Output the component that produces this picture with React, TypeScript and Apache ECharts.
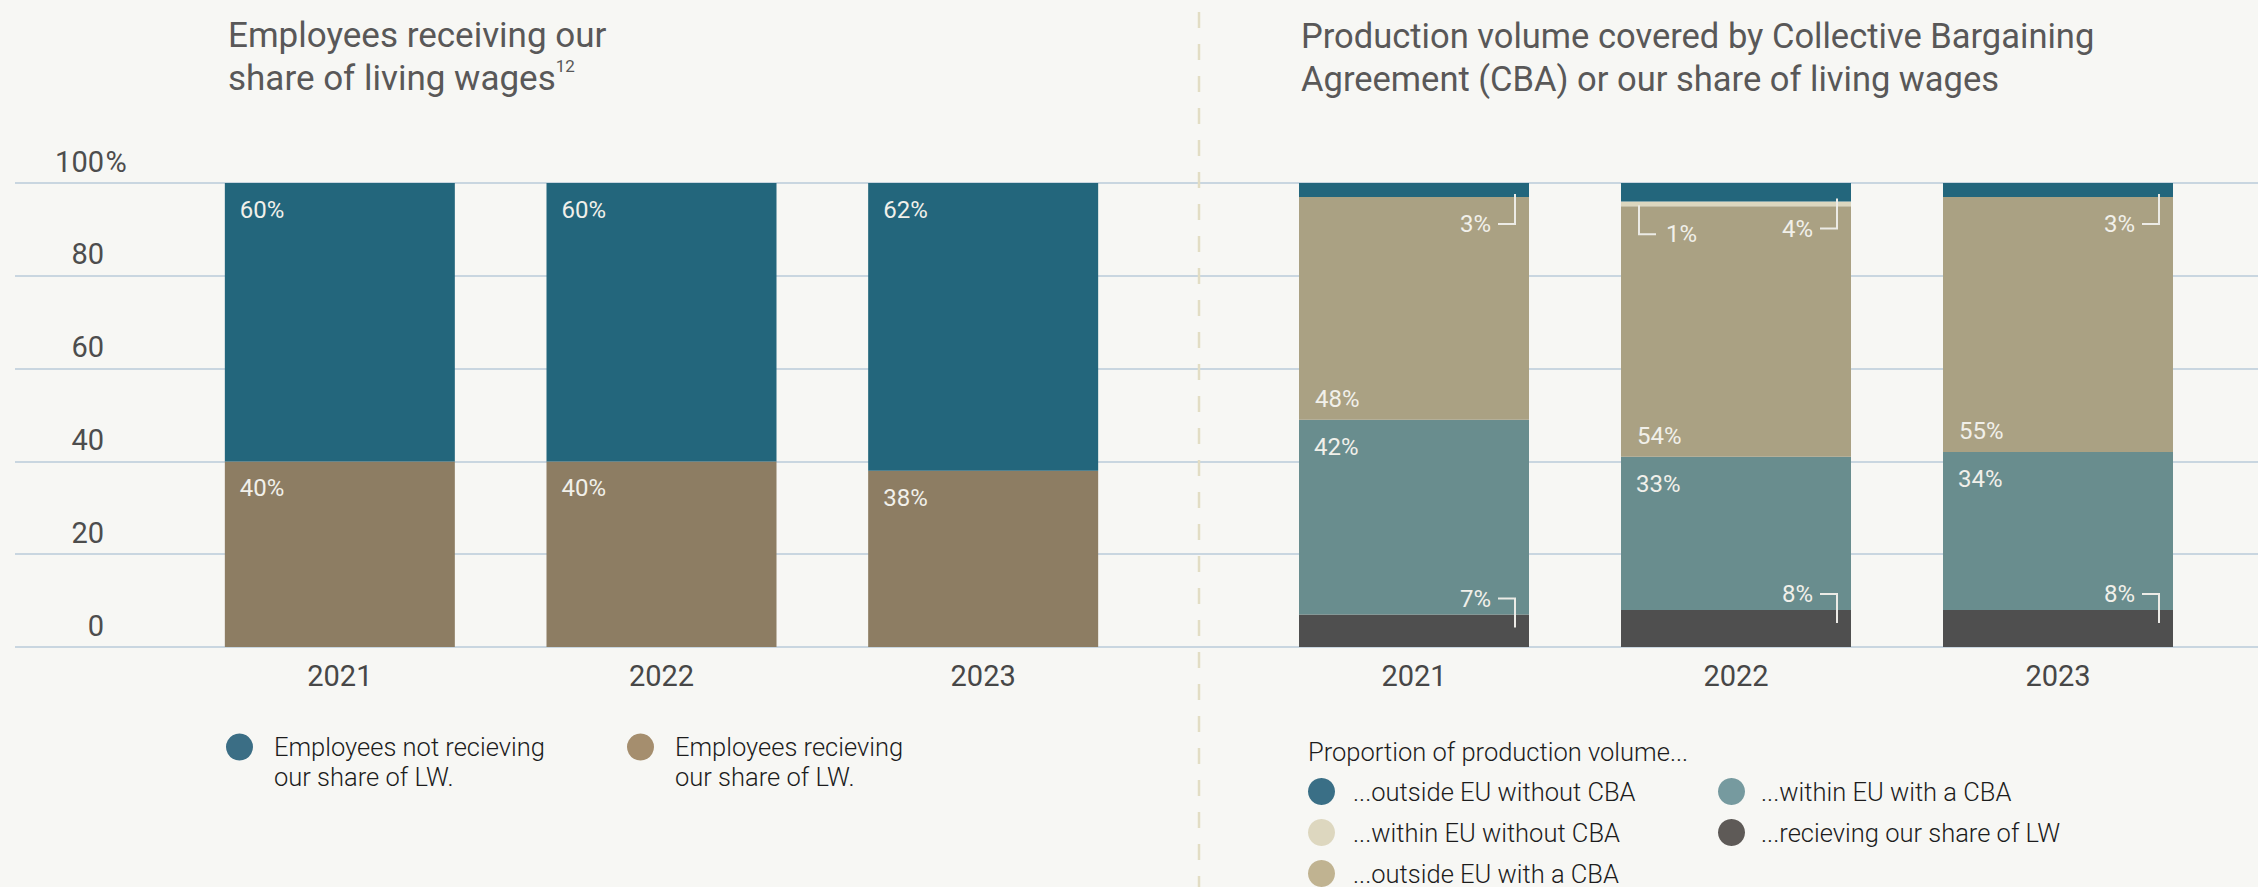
import React, { useEffect, useRef } from 'react';
import * as echarts from 'echarts';

// ---------- data ----------
const years = ['2021', '2022', '2023'];
const yTickLabels = ['0', '20', '40', '60', '80', '100%'];

// Left chart: employees and our share of living wages (%)
const empNotReceiving = [60, 60, 62];
const empReceiving = [40, 40, 38];

// Right chart: production volume (%), bottom to top
const pvReceivingLW = [7, 8, 8];
const pvWithinEUCBA = [42, 33, 34];
const pvOutsideEUCBA = [48, 54, 55];
const pvWithinEUNoCBA = [0, 1, 0];
const pvOutsideEUNoCBA = [3, 4, 3];

const NAME_NOT = 'Employees not recieving\nour share of LW.';
const NAME_REC = 'Employees recieving\nour share of LW.';
const N_OUT_NO = '...outside EU without CBA';
const N_IN_NO = '...within EU without CBA';
const N_OUT_CBA = '...outside EU with a CBA';
const N_IN_CBA = '...within EU with a CBA';
const N_RECV = '...recieving our share of LW';

// ---------- styles ----------
const FONT = 'Roboto, "Noto Sans", sans-serif';
const BG = '#f7f7f4';
const C_TEAL_DARK = '#23667c';
const C_BROWN = '#8d7d63';
const C_KHAKI = '#aaa183';
const C_TEAL_LIGHT = '#698d8e';
const C_DARK = '#4f4f4f';
const C_CREAM = '#dcd7bf';
const LABEL_COLOR = '#f1f0ea';
const BAR_W = 230;

export default function App() {
  const ref = useRef<HTMLDivElement>(null);

  useEffect(() => {
    if (!ref.current) return;
    const chart = echarts.init(ref.current, undefined, { renderer: 'svg' });

    // annotation items for small segments: [category, low, high, kind]
    const annotations: number[][] = [];
    years.forEach((_, i) => {
      annotations.push([i, 0, pvReceivingLW[i], 2]);
      const b = pvReceivingLW[i] + pvWithinEUCBA[i] + pvOutsideEUCBA[i];
      if (pvWithinEUNoCBA[i] > 0) annotations.push([i, b, b + pvWithinEUNoCBA[i], 1]);
      const b2 = b + pvWithinEUNoCBA[i];
      annotations.push([i, b2, b2 + pvOutsideEUNoCBA[i], 0]);
    });

    const valueLabel = (pos: string, extra: any = {}) => ({
      show: true,
      position: pos,
      distance: 15,
      formatter: '{c}%',
      color: LABEL_COLOR,
      fontSize: 24,
      fontFamily: FONT,
      ...extra,
    });

    const legendText = (pad: number[], lh: number) => ({
      fontSize: 25.5,
      fontWeight: 300,
      color: '#1c1c1c',
      fontFamily: FONT,
      lineHeight: lh,
      padding: pad,
    });

    const axisYearLabel = { fontSize: 29, fontWeight: 400, color: '#474747', margin: 14, fontFamily: FONT };

    const option: any = {
      animation: false,
      backgroundColor: BG,
      textStyle: { fontFamily: FONT },
      title: [
        {
          left: 223,
          top: 9,
          text: 'Employees receiving our\nshare of living wages{sup|12}',
          textStyle: {
            fontSize: 35,
            fontWeight: 400,
            color: '#595858',
            lineHeight: 43,
            fontFamily: FONT,
            rich: {
              sup: { fontSize: 17, lineHeight: 28, verticalAlign: 'top', color: '#595858', fontFamily: FONT },
            },
          },
        },
        {
          left: 1296,
          top: 9,
          text: 'Production volume covered by Collective Bargaining\nAgreement (CBA) or our share of living wages',
          textStyle: { fontSize: 34.5, fontWeight: 400, color: '#595858', lineHeight: 43, fontFamily: FONT },
        },
        {
          left: 1303,
          top: 732,
          text: 'Proportion of production volume...',
          textStyle: { fontSize: 25.5, fontWeight: 300, color: '#1c1c1c', lineHeight: 30, fontFamily: FONT },
        },
      ],
      legend: [
        {
          left: 226, top: 702, padding: 0, icon: 'circle', itemWidth: 27, itemHeight: 27,
          selectedMode: false,
          formatter: (n: string) => '\n' + n,
          data: [{ name: NAME_NOT, itemStyle: { color: '#3b6e85' } }],
          textStyle: legendText([0, 0, 0, 16], 30),
        },
        {
          left: 627, top: 702, padding: 0, icon: 'circle', itemWidth: 27, itemHeight: 27,
          selectedMode: false,
          formatter: (n: string) => '\n' + n,
          data: [{ name: NAME_REC, itemStyle: { color: '#a58e6e' } }],
          textStyle: legendText([0, 0, 0, 16], 30),
        },
        {
          left: 1308, top: 778, padding: 0, icon: 'circle', itemWidth: 27, itemHeight: 27,
          orient: 'vertical', itemGap: 14, selectedMode: false,
          data: [
            { name: N_OUT_NO, itemStyle: { color: '#3a6f86' } },
            { name: N_IN_NO, itemStyle: { color: '#ddd7bf' } },
            { name: N_OUT_CBA, itemStyle: { color: '#c0b391' } },
          ],
          textStyle: legendText([0, 0, 0, 13], 27),
        },
        {
          left: 1718, top: 778, padding: 0, icon: 'circle', itemWidth: 27, itemHeight: 27,
          orient: 'vertical', itemGap: 14, selectedMode: false,
          data: [
            { name: N_IN_CBA, itemStyle: { color: '#769a9f' } },
            { name: N_RECV, itemStyle: { color: '#5e5a57' } },
          ],
          textStyle: legendText([0, 0, 0, 11], 27),
        },
      ],
      grid: [
        { left: 15, right: 0, top: 183, height: 464 },
        { left: 179, width: 965, top: 183, height: 464 },
        { left: 1253, width: 966, top: 183, height: 464 },
      ],
      xAxis: [
        { gridIndex: 0, type: 'value', min: 0, max: 1, show: false },
        {
          gridIndex: 1, type: 'category', data: years,
          axisLine: { show: false }, axisTick: { show: false },
          axisLabel: axisYearLabel,
        },
        {
          gridIndex: 2, type: 'category', data: years,
          axisLine: { show: false }, axisTick: { show: false },
          axisLabel: axisYearLabel,
        },
      ],
      yAxis: [
        {
          gridIndex: 0, type: 'value', min: 0, max: 100, interval: 20,
          axisLine: { show: false }, axisTick: { show: false },
          splitLine: { show: true, lineStyle: { color: '#c9d6e0', width: 2 } },
          axisLabel: {
            inside: true,
            margin: 113,
            align: 'right',
            verticalAlign: 'bottom',
            padding: [0, 0, 7, 0],
            formatter: (v: number) => {
              const t = yTickLabels[Math.round(v / 20)];
              return t.endsWith('%') ? `{n|${t.slice(0, -1)}}{p|%}` : `{n|${t}}{p| }`;
            },
            rich: {
              n: { fontSize: 29, color: '#4d4d4d', fontFamily: FONT, lineHeight: 29 },
              p: { fontSize: 29, color: '#4d4d4d', fontFamily: FONT, lineHeight: 29, width: 24, align: 'left' },
            },
          },
        },
        { gridIndex: 1, type: 'value', min: 0, max: 100, show: false, splitLine: { show: false } },
        { gridIndex: 2, type: 'value', min: 0, max: 100, show: false, splitLine: { show: false } },
      ],
      series: [
        {
          name: NAME_REC, type: 'bar', stack: 'emp', xAxisIndex: 1, yAxisIndex: 1,
          barWidth: BAR_W, data: empReceiving, itemStyle: { color: C_BROWN },
          label: valueLabel('insideTopLeft'),
        },
        {
          name: NAME_NOT, type: 'bar', stack: 'emp', xAxisIndex: 1, yAxisIndex: 1,
          barWidth: BAR_W, data: empNotReceiving, itemStyle: { color: C_TEAL_DARK },
          label: valueLabel('insideTopLeft'),
        },
        {
          name: N_RECV, type: 'bar', stack: 'pv', xAxisIndex: 2, yAxisIndex: 2,
          barWidth: BAR_W, data: pvReceivingLW, itemStyle: { color: C_DARK },
        },
        {
          name: N_IN_CBA, type: 'bar', stack: 'pv', xAxisIndex: 2, yAxisIndex: 2,
          barWidth: BAR_W, data: pvWithinEUCBA, itemStyle: { color: C_TEAL_LIGHT },
          label: valueLabel('insideTopLeft'),
        },
        {
          name: N_OUT_CBA, type: 'bar', stack: 'pv', xAxisIndex: 2, yAxisIndex: 2,
          barWidth: BAR_W, data: pvOutsideEUCBA, itemStyle: { color: C_KHAKI },
          label: valueLabel('insideBottomLeft', { distance: 7, offset: [9, -2] }),
        },
        {
          name: N_IN_NO, type: 'bar', stack: 'pv', xAxisIndex: 2, yAxisIndex: 2,
          barWidth: BAR_W, data: pvWithinEUNoCBA, itemStyle: { color: C_CREAM },
        },
        {
          name: N_OUT_NO, type: 'bar', stack: 'pv', xAxisIndex: 2, yAxisIndex: 2,
          barWidth: BAR_W, data: pvOutsideEUNoCBA, itemStyle: { color: C_TEAL_DARK },
        },
        {
          type: 'custom', xAxisIndex: 2, yAxisIndex: 2, z: 5, silent: true,
          data: annotations,
          encode: { x: 0, y: [1, 2] },
          renderItem: (params: any, api: any) => {
            const cat = api.value(0);
            const lo = api.value(1);
            const hi = api.value(2);
            const kind = api.value(3);
            const pLo = api.coord([cat, lo]);
            const pHi = api.coord([cat, hi]);
            const left = pLo[0] - BAR_W / 2;
            const right = pLo[0] + BAR_W / 2;
            const txt = `${Math.round(hi - lo)}%`;
            let points: number[][];
            let tx: number;
            let ty: number;
            let align = 'right';
            if (kind === 0) {
              const yb = pLo[1];
              ty = yb + 27;
              points = [[right - 31, ty], [right - 14, ty], [right - 14, yb - 3]];
              tx = right - 38;
            } else if (kind === 1) {
              const yb = pLo[1];
              ty = yb + 28;
              points = [[left + 18, yb - 1], [left + 18, ty], [left + 35, ty]];
              tx = left + 45;
              align = 'left';
            } else {
              const yt = pHi[1];
              ty = yt - 16;
              points = [[right - 31, ty], [right - 14, ty], [right - 14, yt + 13]];
              tx = right - 38;
            }
            return {
              type: 'group',
              children: [
                {
                  type: 'polyline',
                  shape: { points },
                  style: { stroke: '#ecebe6', lineWidth: 2, fill: 'none' },
                },
                {
                  type: 'text',
                  x: tx,
                  y: ty,
                  style: {
                    text: txt,
                    fill: LABEL_COLOR,
                    fontSize: 24,
                    fontFamily: FONT,
                    align,
                    verticalAlign: 'middle',
                  },
                },
              ],
            };
          },
        },
      ],
      graphic: [
        {
          type: 'line',
          shape: { x1: 1199, y1: 12, x2: 1199, y2: 887 },
          style: { stroke: '#e2ddc4', lineWidth: 2.5, lineDash: [16, 16] },
          z: 1,
        },
      ],
    };

    chart.setOption(option);
    return () => chart.dispose();
  }, []);

  return (
    <div
      ref={ref}
      style={{ position: 'fixed', left: 0, top: 0, width: 2258, height: 887, background: BG }}
    />
  );
}
